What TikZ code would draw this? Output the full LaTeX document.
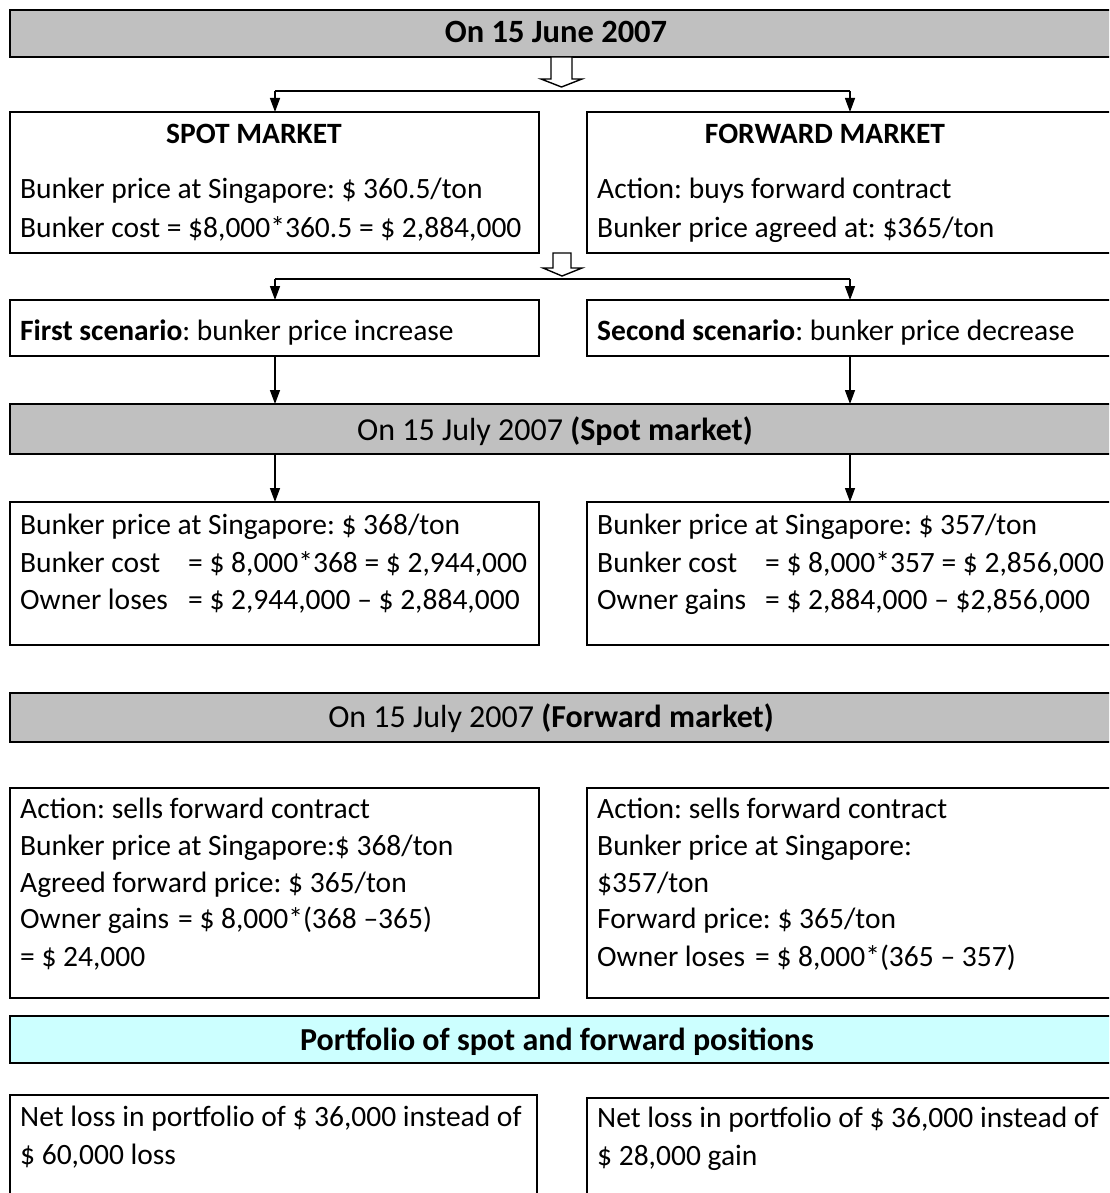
\documentclass[tikz,border=0pt]{standalone}
\usepackage{fontspec}
\setmainfont{Carlito}
\usetikzlibrary{arrows.meta}
\definecolor{bandgray}{HTML}{C0C0C0}
\definecolor{bandcyan}{HTML}{CCFFFF}
\tikzset{
  frame/.style={draw=black, line width=1.6pt, inner sep=0pt, outer sep=0pt, anchor=north west},
  band/.style={frame, fill=bandgray},
  txt/.style={anchor=base west, inner sep=0pt, font=\fontsize{29.5}{36}\selectfont\frenchspacing},
  ctxt/.style={anchor=base, inner sep=0pt, font=\fontsize{29.5}{36}\selectfont\frenchspacing},
  btxt/.style={anchor=base, inner sep=0pt, font=\fontsize{32}{38}\selectfont\frenchspacing},
  arr/.style={line width=1.4pt, -{Triangle[width=10pt,length=14pt]}},
  conn/.style={line width=1.4pt},
  hollow/.style={draw, fill=white, line width=1.4pt, line join=miter},
}
\begin{document}
\begin{tikzpicture}[x=1pt,y=-1pt]
\useasboundingbox (0,0) rectangle (1109,1193);
\clip (0,0) rectangle (1109,1193);
\fill[white] (0,0) rectangle (1109,1193);

% boxes
\node[band, minimum width=1120pt, minimum height=47pt] (b1) at (10,10) {};
\node[frame, minimum width=529pt, minimum height=141pt] (spot) at (10,112) {};
\node[frame, minimum width=540pt, minimum height=141pt] (fwd) at (587,112) {};
\node[frame, minimum width=529pt, minimum height=56pt] (sc1) at (10,300) {};
\node[frame, minimum width=540pt, minimum height=56pt] (sc2) at (587,300) {};
\node[band, minimum width=1120pt, minimum height=50pt] (b2) at (10,404) {};
\node[frame, minimum width=529pt, minimum height=143pt] (r1) at (10,502) {};
\node[frame, minimum width=540pt, minimum height=143pt] (r2) at (587,502) {};
\node[band, minimum width=1120pt, minimum height=49pt] (b3) at (10,693) {};
\node[frame, minimum width=529pt, minimum height=210pt] (f1) at (10,788) {};
\node[frame, minimum width=540pt, minimum height=210pt] (f2) at (587,788) {};
\node[band, fill=bandcyan, minimum width=1120pt, minimum height=47pt] (b4) at (10,1016) {};
\node[frame, minimum width=527pt, minimum height=150pt] (p1) at (10,1095) {};
\node[frame, minimum width=540pt, minimum height=150pt] (p2) at (587,1098) {};

% column positions
\coordinate (xL) at (275,0);
\coordinate (xR) at (850,0);

% hollow arrow 1 and split
\draw[hollow] (551,57) -- (572,57) -- (572,79) -- (582,79) -- (561.5,87) -- (541,79) -- (551,79) -- cycle;
\coordinate (j1a) at (275,91);
\coordinate (j1b) at (850,91);
\draw[conn] (j1a) -- (j1b);
\draw[arr] (j1a) -- (j1a |- spot.north);
\draw[arr] (j1b) -- (j1b |- fwd.north);

% hollow arrow 2 and split
\draw[hollow] (553,253) -- (571,253) -- (571,268) -- (582,268) -- (562,276) -- (543,268) -- (553,268) -- cycle;
\coordinate (j2a) at (275,279);
\coordinate (j2b) at (850,279);
\draw[conn] (j2a) -- (j2b);
\draw[arr] (j2a) -- (j2a |- sc1.north);
\draw[arr] (j2b) -- (j2b |- sc2.north);

% scenario -> spot banner -> results
\draw[arr] (sc1.south -| xL) -- (b2.north -| xL);
\draw[arr] (sc2.south -| xR) -- (b2.north -| xR);
\draw[arr] (b2.south -| xL) -- (r1.north -| xL);
\draw[arr] (b2.south -| xR) -- (r2.north -| xR);

% texts
\node[btxt, font=\fontsize{32.5}{38}\selectfont] (t1) at (556,43) {\textbf{On 15 June 2007}};
\node[ctxt] (t2) at (254,144) {\textbf{SPOT MARKET}};
\node[ctxt] (t3) at (825,144) {\textbf{FORWARD MARKET}};
\node[txt] (t4) at (20,199) {Bunker price at Singapore: \$ 360.5/ton};
\node[txt] (t5) at (20,237) {Bunker cost = \$8,000*360.5 = \$ 2,884,000};
\node[txt] (t6) at (597,199) {Action: buys forward contract};
\node[txt] (t7) at (597,237) {Bunker price agreed at: \$365/ton};
\node[txt] (t8) at (20,340) {\textbf{First scenario}: bunker price increase};
\node[txt] (t9) at (597,340) {\textbf{Second scenario}: bunker price decrease};
\node[btxt] (t10) at (555,440) {On 15 July 2007 \textbf{(Spot market)}};
\node[txt] (t11) at (20,534) {Bunker price at Singapore: \$ 368/ton};
\node[txt] (t12) at (20,572) {\makebox[168pt][l]{Bunker cost}= \$ 8,000*368 = \$ 2,944,000};
\node[txt] (t13) at (20,609) {\makebox[168pt][l]{Owner loses}= \$ 2,944,000 – \$ 2,884,000};
\node[txt] (t14) at (597,534) {Bunker price at Singapore: \$ 357/ton};
\node[txt] (t15) at (597,572) {\makebox[168pt][l]{Bunker cost}= \$ 8,000*357 = \$ 2,856,000};
\node[txt] (t16) at (597,609) {\makebox[168pt][l]{Owner gains}= \$ 2,884,000 – \$2,856,000};
\node[btxt] (t17) at (551,727) {On 15 July 2007 \textbf{(Forward market)}};
\node[txt] (t18) at (20,818) {Action: sells forward contract};
\node[txt] (t19) at (20,855) {Bunker price at Singapore:\$ 368/ton};
\node[txt] (t20) at (20,892) {Agreed forward price: \$ 365/ton};
\node[txt] (t21) at (20,928) {\makebox[158pt][l]{Owner gains}= \$ 8,000*(368 –365)};
\node[txt] (t22) at (20,966) {= \$ 24,000};
\node[txt] (t23) at (597,818) {Action: sells forward contract};
\node[txt] (t24) at (597,855) {Bunker price at Singapore:};
\node[txt] (t25) at (597,892) {\$357/ton};
\node[txt] (t26) at (597,928) {Forward price: \$ 365/ton};
\node[txt] (t27) at (597,966) {\makebox[158pt][l]{Owner loses}= \$ 8,000*(365 – 357)};
\node[btxt] (t28) at (557,1050) {\textbf{Portfolio of spot and forward positions}};
\node[txt] (t29) at (20,1126) {Net loss in portfolio of \$ 36,000 instead of};
\node[txt] (t30) at (20,1164) {\$ 60,000 loss};
\node[txt] (t31) at (597,1127) {Net loss in portfolio of \$ 36,000 instead of};
\node[txt] (t32) at (597,1165) {\$ 28,000 gain};
\end{tikzpicture}
\end{document}
